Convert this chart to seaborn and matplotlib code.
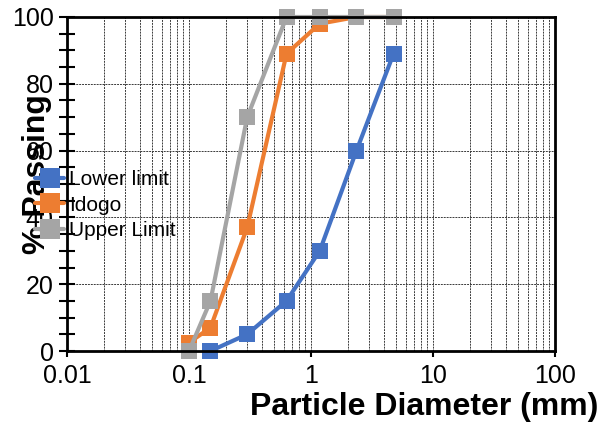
import numpy as np
import pandas as pd
import matplotlib
matplotlib.use("Agg")
import matplotlib.pyplot as plt
from matplotlib.lines import Line2D
from matplotlib.ticker import FixedLocator, FixedFormatter, LogLocator, MultipleLocator
import seaborn as sns

# ---- data ----
series_names = ["Lower limit", "Idogo", "Upper Limit"]
lower_x = [0.15, 0.3, 0.63, 1.18, 2.36, 4.75]
lower_y = [0, 5, 15, 30, 60, 89]
idogo_x = [0.1, 0.15, 0.3, 0.63, 1.18, 2.36, 4.75]
idogo_y = [2.5, 7, 37, 89, 98, 100, 100]
upper_x = [0.1, 0.15, 0.3, 0.63, 1.18, 2.36, 4.75]
upper_y = [0, 15, 70, 100, 100, 100, 100]
x_ticks = [0.01, 0.1, 1, 10, 100]
x_ticklabels = ["0.01", "0.1", "1", "10", "100"]
y_ticks = [0, 20, 40, 60, 80, 100]
colors = ["#4472C4", "#ED7D31", "#A5A5A5"]

df = pd.concat([
    pd.DataFrame({"d": lower_x, "p": lower_y, "s": series_names[0]}),
    pd.DataFrame({"d": idogo_x, "p": idogo_y, "s": series_names[1]}),
    pd.DataFrame({"d": upper_x, "p": upper_y, "s": series_names[2]}),
], ignore_index=True)

sns.set_style("white")
plt.rcParams["font.family"] = ["Liberation Sans", "DejaVu Sans"]
plt.rcParams["text.color"] = "black"
plt.rcParams["axes.labelcolor"] = "black"
plt.rcParams["xtick.color"] = "black"
plt.rcParams["ytick.color"] = "black"

fig = plt.figure(figsize=(5.98, 4.23), dpi=100)
ax = fig.add_axes([67 / 598, 1 - 351 / 423, (555 - 67) / 598, (351 - 17) / 423])

sns.lineplot(data=df, x="d", y="p", hue="s", hue_order=series_names,
             palette=colors, style="s", markers=["s", "s", "s"], dashes=False,
             estimator=None, sort=False, ax=ax, linewidth=3, markersize=12,
             markeredgewidth=0, clip_on=False, legend=False)

ax.set_xscale("log")
ax.set_xlim(0.01, 100)
ax.set_ylim(0, 100)

ax.xaxis.set_major_locator(FixedLocator(x_ticks))
ax.xaxis.set_major_formatter(FixedFormatter(x_ticklabels))
ax.xaxis.set_minor_locator(LogLocator(base=10, subs=np.arange(2, 10)))
ax.yaxis.set_major_locator(FixedLocator(y_ticks))
ax.yaxis.set_minor_locator(MultipleLocator(5))

ax.grid(True, which="major", axis="y", color="#3a3a3a", linestyle=(0, (2, 1)), linewidth=0.7)
ax.grid(True, which="both", axis="x", color="#3a3a3a", linestyle=(0, (2, 1)), linewidth=0.7)
ax.set_axisbelow(True)

for sp in ax.spines.values():
    sp.set_color("black")
    sp.set_linewidth(2)
    sp.set_visible(True)

ax.tick_params(axis="y", which="both", direction="inout", length=11, width=1.5,
               color="black", labelcolor="black", labelsize=18, pad=4, left=True)
ax.tick_params(axis="x", which="major", direction="out", length=4, width=1.5,
               color="black", labelcolor="black", labelsize=18, pad=5, bottom=True)
ax.tick_params(axis="x", which="minor", length=0)

ax.set_xlabel("")
ax.set_ylabel("% Passing", fontsize=23, fontweight="bold", color="black")
ax.yaxis.set_label_coords(-0.03, 0.53)

fig.text(424 / 598, 1 - 407 / 423, "Particle Diameter (mm)", fontsize=23,
         fontweight="bold", ha="center", va="center", color="black")

handles = [Line2D([0], [0], color=c, linewidth=3, marker="s", markersize=15,
                  markeredgewidth=0) for c in colors]
leg = ax.legend(handles, series_names, loc="upper left",
                bbox_to_anchor=(35 / 598, 1 - 170 / 423), bbox_transform=fig.transFigure,
                frameon=False, fontsize=15, handlelength=1.4, handletextpad=0.25,
                labelspacing=0.32, borderpad=0, borderaxespad=0)
for t in leg.get_texts():
    t.set_color("black")
leg.set_zorder(10)

fig.savefig("out.png", dpi=100)
